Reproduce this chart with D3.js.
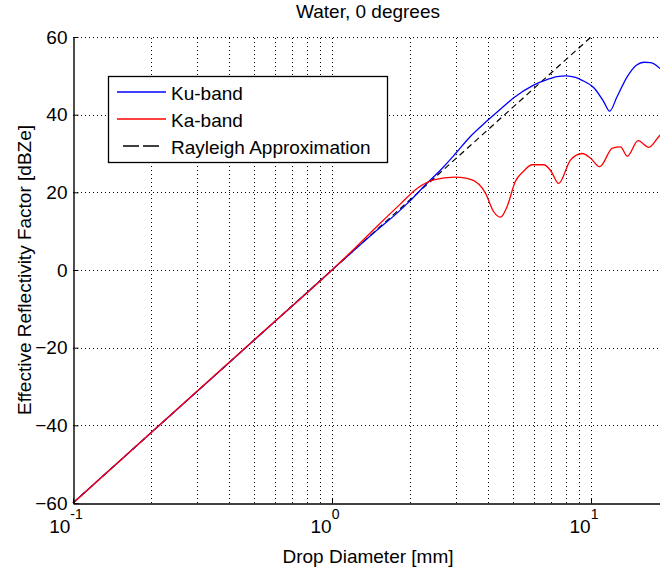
<!DOCTYPE html>
<html>
<head>
	<meta charset="utf-8">
	<title>Water, 0 degrees</title>
	<script src="https://d3js.org/d3.v7.min.js"></script>
	<style>
		html, body { margin: 0; background: #fff; }
		text { font-family: "Liberation Sans", Arial, sans-serif; fill: #000; }
	</style>
</head>
<body>
	<svg id="svg"></svg>
	<script>
		// diameters in mm, reflectivity in dBZe
		const kuD = [0.1, 0.2, 0.5, 1, 1.5, 1.8, 2.0, 2.3, 2.7, 3.0, 3.4, 4.0, 4.5, 5.0, 6.0, 6.8, 7.4, 8.0, 8.7, 9.2, 10.3, 11.2, 11.8, 12.6, 13.8, 15.0, 16.0, 17.0, 18.6, 20];
		const kuZ = [-60, -41.9, -18.1, 0, 10.4, 14.9, 17.8, 22.0, 26.6, 30.0, 34.2, 38.6, 41.6, 44.2, 47.6, 49.1, 49.8, 50.0, 49.6, 48.9, 46.8, 43.3, 40.9, 44.6, 49.8, 52.8, 53.5, 53.4, 51.7, 49.5];

		const kaD = [0.1, 0.2, 0.5, 1, 1.25, 1.5, 1.83, 2.13, 2.47, 2.97, 3.32, 3.7, 3.91, 4.21, 4.47, 4.74, 5.1, 5.5, 5.92, 6.57, 7.0, 7.5, 8.33, 9.25, 9.96, 10.8, 12.1, 13.0, 13.8, 15.2, 16.7, 18.6, 20];
		const kaZ = [-60, -41.9, -18.0, 0, 6.2, 11.4, 16.9, 21.0, 23.2, 23.9, 23.6, 22.0, 19.8, 15.0, 13.6, 16.3, 22.8, 25.5, 27.1, 27.1, 25.5, 22.3, 28.3, 30.0, 28.8, 26.6, 31.4, 31.7, 29.3, 33.3, 31.6, 34.9, 36.0];

		const rayD = [0.1, 1, 10];
		const rayZ = [-60, 0, 60];

		const yTicks = [-60, -40, -20, 0, 20, 40, 60];
		const xMajor = [0.1, 1, 10];
		const xMinor = [0.2, 0.3, 0.4, 0.5, 0.6, 0.7, 0.8, 0.9, 2, 3, 4, 5, 6, 7, 8, 9, 20];
		const xExp = ["-1", "0", "1"];

		const legendNames = ["Ku-band", "Ka-band", "Rayleigh Approximation"];
		const legendColors = ["#0000ff", "#ff0000", "#000"];

		const W = 660, H = 569;
		const m = { left: 73, top: 37, bottom: 66 };
		const right = 669;

		const svg = d3.select("#svg").attr("width", W).attr("height", H);

		const x = d3.scaleLog().domain([0.1, 20]).range([m.left, right]);
		const y = d3.scaleLinear().domain([-60, 60]).range([H - m.bottom, m.top]);

		// grid
		const grid = svg.append("g")
			.attr("stroke", "#000")
			.attr("stroke-width", 1)
			.attr("stroke-dasharray", "1,3");

		grid.selectAll(".gx")
			.data(xMajor.concat(xMinor).filter(d => d > 0.1))
			.enter().append("line")
			.attr("x1", d => Math.round(x(d)) + 0.5)
			.attr("x2", d => Math.round(x(d)) + 0.5)
			.attr("y1", y(-60))
			.attr("y2", y(60));

		grid.selectAll(".gy")
			.data(yTicks.filter(d => d > -60))
			.enter().append("line")
			.attr("x1", m.left)
			.attr("x2", right)
			.attr("y1", d => Math.round(y(d)) + 0.5)
			.attr("y2", d => Math.round(y(d)) + 0.5);

		// series
		const line = d3.line()
			.curve(d3.curveMonotoneX)
			.x(d => x(d[0]))
			.y(d => y(d[1]));

		const plot = svg.append("g");

		plot.append("path")
			.attr("d", line(rayD.map((d, i) => [d, rayZ[i]])))
			.attr("fill", "none")
			.attr("stroke", "#000")
			.attr("stroke-width", 1.2)
			.attr("stroke-dasharray", "6,4");

		plot.append("path")
			.attr("d", line(kuD.map((d, i) => [d, kuZ[i]])))
			.attr("fill", "none")
			.attr("stroke", "#0000ff")
			.attr("stroke-width", 1.3);

		plot.append("path")
			.attr("d", line(kaD.map((d, i) => [d, kaZ[i]])))
			.attr("fill", "none")
			.attr("stroke", "#ff0000")
			.attr("stroke-width", 1.3);

		// axes
		const yAxis = svg.append("g")
			.attr("transform", `translate(${m.left + 0.5},0)`)
			.call(d3.axisLeft(y).tickValues(yTicks).tickSizeInner(-5).tickSizeOuter(0).tickPadding(6));

		svg.append("g")
			.attr("transform", `translate(0,${y(-60) + 0.5})`)
			.call(d3.axisBottom(x).tickValues(xMajor).tickSizeInner(-5).tickSizeOuter(0).tickFormat(""));

		svg.selectAll(".domain").attr("stroke", "#000").attr("stroke-width", 1.4);
		svg.selectAll(".tick line").attr("stroke", "#000");
		yAxis.selectAll("text")
			.style("font-family", "'Liberation Sans', Arial, sans-serif")
			.style("font-size", "19px")
			.attr("fill", "#000");

		// x tick labels as 10^n
		const xl = svg.append("g");
		xMajor.forEach((d, i) => {
			const t = xl.append("text")
				.attr("x", x(d) - 7)
				.attr("y", y(-60) + 30)
				.attr("text-anchor", "middle")
				.style("font-size", "19px");
			t.append("tspan").text("10");
			t.append("tspan").attr("dy", -14).style("font-size", "14px").text(xExp[i]);
		});

		// titles
		svg.append("text")
			.attr("x", 368)
			.attr("y", 18)
			.attr("text-anchor", "middle")
			.style("font-size", "19px")
			.text("Water, 0 degrees");

		svg.append("text")
			.attr("x", 368)
			.attr("y", 563)
			.attr("text-anchor", "middle")
			.style("font-size", "19px")
			.text("Drop Diameter [mm]");

		svg.append("text")
			.attr("transform", `translate(31,${y(0)}) rotate(-90)`)
			.attr("text-anchor", "middle")
			.style("font-size", "19px")
			.text("Effective Reflectivity Factor [dBZe]");

		// legend
		const lg = svg.append("g");
		lg.append("rect")
			.attr("x", 108.5)
			.attr("y", 76.5)
			.attr("width", 279)
			.attr("height", 86)
			.attr("fill", "#fff")
			.attr("stroke", "#000")
			.attr("stroke-width", 1.3);

		legendNames.forEach((name, i) => {
			const cy = 92 + i * 27;
			lg.append("line")
				.attr("x1", i === 2 ? 123 : 117)
				.attr("x2", i === 2 ? 160 : 166)
				.attr("y1", cy)
				.attr("y2", cy)
				.attr("stroke", legendColors[i])
				.attr("stroke-width", 1.3)
				.attr("stroke-dasharray", i === 2 ? "16,4" : null);
			lg.append("text")
				.attr("x", 171)
				.attr("y", cy + 8)
				.style("font-size", "19px")
				.text(name);
		});
	</script>
</body>
</html>
